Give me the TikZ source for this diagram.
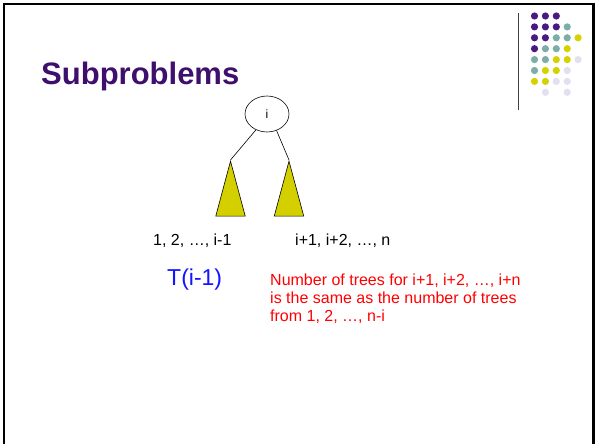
\documentclass[tikz,border=0pt]{standalone}
\usepackage{fontspec}
\setmainfont{Liberation Sans}
\usetikzlibrary{shapes.geometric}
\definecolor{dpurple}{HTML}{4A1A80}
\definecolor{dteal}{HTML}{7BAEA9}
\definecolor{dyellow}{HTML}{D6D200}
\definecolor{dlav}{HTML}{E2E0F0}
\definecolor{titlepurple}{HTML}{3F0F6E}
\definecolor{tri}{HTML}{D4D000}
\begin{document}
\begin{tikzpicture}[x=1pt,y=-1pt,
  dot/.style={circle,inner sep=0pt,minimum size=7.2pt,draw=none},
  trinode/.style={isosceles triangle,isosceles triangle apex angle=30,shape border rotate=90,fill=tri,draw=black,line width=0.6pt,inner sep=0pt,minimum height=55pt,minimum width=28.5pt},
  lbl/.style={font=\fontsize{16}{18.4}\selectfont,inner sep=0pt}
  ]
\useasboundingbox (0,0) rectangle (596,444);
\fill[white] (0,0) rectangle (596,444);
% frame
\draw[line width=2.6pt] (4,444) -- (4,4) -- (593.5,4) -- (593.5,444);
% decorative line and dots
\draw[line width=0.8pt,black!75] (518,13) -- (518,110);
\foreach \r/\cols in {0/{0/dpurple,1/dpurple,2/dpurple},
  1/{0/dpurple,1/dpurple,2/dpurple,3/dteal},
  2/{0/dpurple,1/dpurple,2/dteal,3/dteal,4/dyellow},
  3/{0/dpurple,1/dteal,2/dteal,3/dyellow},
  4/{0/dteal,1/dteal,2/dyellow,3/dyellow,4/dlav},
  5/{0/dteal,1/dyellow,2/dyellow,3/dlav},
  6/{0/dyellow,1/dyellow,2/dlav,3/dlav},
  7/{1/dlav,3/dlav}}{
  \foreach \c/\col in \cols {
    \node[dot,fill=\col] (d\r\c) at ({534.5+10.9*\c},{16+10.9*\r}) {};
  }
}
% title
\node[anchor=base west,inner sep=0pt,text=titlepurple,font=\fontsize{31}{35}\selectfont\bfseries] (title) at (41,84) {Subproblems};
% tree
\node[ellipse,draw=black,line width=0.6pt,minimum width=44pt,minimum height=36pt,inner sep=0pt,font=\fontsize{12}{14}\selectfont] (root) at (267,114) {i};
\node[trinode,anchor=apex] (lt) at (230.5,160) {};
\node[trinode,anchor=apex] (rt) at (289,160) {};
\draw[line width=0.6pt] (root.-125) -- (lt.apex);
\draw[line width=0.6pt] (root.-60) -- (rt.apex);
% labels
\node[lbl,anchor=west] (l1) at (153,240.5) {1, 2, …, i-1};
\node[lbl,anchor=west] (l2) at (295,240.5) {i+1, i+2, …, n};
\node[anchor=west,inner sep=0pt,text={rgb,255:red,20;green,20;blue,255},font=\fontsize{23}{27}\selectfont] (T) at (167,280) {T(i-1)};
\node[anchor=north west,inner sep=0pt,align=left,text={rgb,255:red,255;green,0;blue,0},font=\fontsize{16}{18.4}\selectfont] (red) at (270,273.3) {Number of trees for i+1, i+2, …, i+n\\is the same as the number of trees\\from 1, 2, …, n-i};
\end{tikzpicture}
\end{document}
